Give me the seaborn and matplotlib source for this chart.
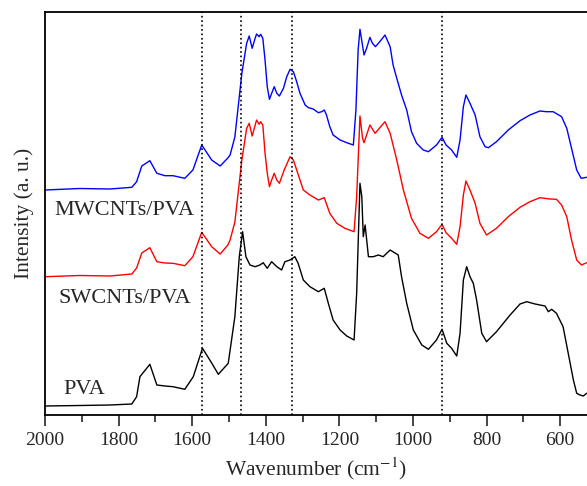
import numpy as np
import pandas as pd
import matplotlib
matplotlib.use('Agg')
import matplotlib.pyplot as plt
import seaborn as sns

# FTIR spectra (stacked, a.u.)
mw_wavenumber = [2000, 1905, 1823, 1764, 1751, 1737, 1715, 1696, 1674, 1652, 1620, 1598, 1574, 1547, 1524, 1503,
                 1497, 1484, 1465, 1452, 1445, 1437, 1429, 1425, 1418, 1414, 1408, 1402, 1396, 1390, 1384, 1377,
                 1370, 1363, 1352, 1343, 1334, 1325, 1316, 1307, 1293, 1284, 1271, 1257, 1248, 1241, 1235, 1226,
                 1217, 1198, 1180, 1162, 1155, 1149, 1144, 1138, 1133, 1126, 1117, 1110, 1102, 1094, 1085, 1076,
                 1070, 1062, 1054, 1044, 1031, 1017, 1004, 990, 972, 958, 936, 921, 910, 895, 881, 872, 863, 856,
                 845, 831, 818, 804, 795, 773, 741, 709, 682, 655, 637, 619, 596, 582, 569, 555, 543, 528]
mw_intensity = [2.25, 2.265, 2.26, 2.277, 2.333, 2.49, 2.543, 2.417, 2.393, 2.393, 2.367, 2.45, 2.70, 2.55, 2.49, 2.57,
                2.60, 2.78, 3.417, 3.717, 3.79, 3.667, 3.767, 3.81, 3.783, 3.807, 3.767, 3.55, 3.283, 3.157, 3.217, 3.283,
                3.217, 3.19, 3.267, 3.383, 3.457, 3.433, 3.333, 3.217, 3.10, 3.073, 3.06, 3.023, 3.033, 3.05, 3.00, 2.883,
                2.80, 2.75, 2.723, 2.70, 3.05, 3.65, 3.857, 3.717, 3.60, 3.667, 3.777, 3.717, 3.683, 3.717, 3.757, 3.80,
                3.75, 3.683, 3.50, 3.367, 3.20, 3.05, 2.833, 2.717, 2.65, 2.633, 2.70, 2.777, 2.70, 2.65, 2.577, 2.75,
                3.083, 3.20, 3.117, 3.00, 2.783, 2.683, 2.673, 2.733, 2.85, 2.943, 3.00, 3.04, 3.033, 3.033, 2.983,
                2.867, 2.667, 2.45, 2.367, 2.377]

sw_wavenumber = [2000, 1905, 1823, 1764, 1751, 1737, 1715, 1696, 1674, 1652, 1620, 1598, 1574, 1547, 1524, 1503,
                 1497, 1484, 1465, 1452, 1445, 1437, 1425, 1418, 1414, 1408, 1402, 1396, 1390, 1384, 1377, 1370,
                 1363, 1350, 1334, 1325, 1316, 1298, 1280, 1257, 1241, 1226, 1207, 1185, 1160, 1153, 1144, 1137,
                 1133, 1117, 1103, 1076, 1062, 1044, 1026, 1004, 981, 958, 936, 921, 910, 895, 881, 872, 863, 856,
                 845, 831, 818, 800, 773, 741, 709, 682, 655, 628, 610, 596, 582, 569, 555, 542, 528]
sw_intensity = [1.383, 1.395, 1.39, 1.41, 1.47, 1.62, 1.673, 1.533, 1.52, 1.517, 1.493, 1.583, 1.827, 1.683, 1.61, 1.70,
                1.75, 1.93, 2.55, 2.867, 2.917, 2.79, 2.95, 2.907, 2.933, 2.90, 2.617, 2.42, 2.283, 2.35, 2.417, 2.35,
                2.317, 2.45, 2.583, 2.55, 2.45, 2.25, 2.20, 2.15, 2.173, 2.017, 1.917, 1.867, 1.833, 2.183, 2.99, 2.767,
                2.723, 2.90, 2.817, 2.933, 2.817, 2.55, 2.25, 1.967, 1.817, 1.767, 1.833, 1.907, 1.823, 1.767, 1.707,
                1.883, 2.20, 2.34, 2.25, 2.117, 1.917, 1.80, 1.867, 1.983, 2.077, 2.133, 2.173, 2.16, 2.157, 2.10,
                1.983, 1.75, 1.55, 1.50, 1.523]

pva_wavenumber = [2000, 1905, 1823, 1764, 1751, 1742, 1715, 1696, 1674, 1652, 1620, 1597, 1572, 1547, 1529, 1502,
                  1484, 1472, 1463, 1454, 1443, 1429, 1416, 1407, 1396, 1384, 1370, 1357, 1348, 1334, 1321, 1312,
                  1298, 1280, 1257, 1241, 1230, 1217, 1198, 1180, 1160, 1153, 1144, 1139, 1135, 1130, 1121, 1108,
                  1094, 1081, 1062, 1040, 1031, 1017, 999, 976, 958, 936, 921, 908, 895, 881, 872, 863, 854, 845,
                  836, 827, 813, 800, 773, 736, 709, 691, 668, 641, 632, 623, 610, 592, 578, 564, 555, 546, 537, 528]
pva_intensity = [0.09, 0.095, 0.10, 0.11, 0.183, 0.383, 0.507, 0.30, 0.29, 0.283, 0.257, 0.383, 0.667, 0.52, 0.407, 0.517,
                 0.983, 1.583, 1.833, 1.583, 1.50, 1.483, 1.50, 1.523, 1.467, 1.533, 1.483, 1.45, 1.533, 1.55, 1.583, 1.517,
                 1.35, 1.283, 1.233, 1.267, 1.117, 0.95, 0.85, 0.79, 0.75, 1.217, 2.317, 2.183, 1.783, 1.90, 1.583, 1.583,
                 1.60, 1.583, 1.65, 1.60, 1.383, 1.117, 0.85, 0.70, 0.657, 0.75, 0.857, 0.717, 0.667, 0.59, 0.817, 1.35,
                 1.483, 1.383, 1.317, 1.15, 0.817, 0.733, 0.833, 1.00, 1.11, 1.133, 1.11, 1.09, 1.033, 1.057, 1.017,
                 0.883, 0.617, 0.35, 0.217, 0.20, 0.19, 0.217]

samples = ['MWCNTs/PVA', 'SWCNTs/PVA', 'PVA']
colors = {'MWCNTs/PVA': 'blue', 'SWCNTs/PVA': 'red', 'PVA': 'black'}
# label anchors (wavenumber, intensity)
label_pos = {'MWCNTs/PVA': (1784, 2.05), 'SWCNTs/PVA': (1784, 1.17), 'PVA': (1893, 0.26)}
marker_lines = [1574, 1467, 1329, 921]

df = pd.concat([
    pd.DataFrame({'wavenumber': mw_wavenumber, 'intensity': mw_intensity, 'sample': 'MWCNTs/PVA'}),
    pd.DataFrame({'wavenumber': sw_wavenumber, 'intensity': sw_intensity, 'sample': 'SWCNTs/PVA'}),
    pd.DataFrame({'wavenumber': pva_wavenumber, 'intensity': pva_intensity, 'sample': 'PVA'}),
], ignore_index=True)

sns.set_style('ticks')
plt.rcParams['font.family'] = ['Liberation Serif', 'DejaVu Serif']
plt.rcParams['mathtext.fontset'] = 'stix'

fig = plt.figure(figsize=(5.87, 4.86), dpi=100)
ax = fig.add_axes([45 / 587, 71 / 486, 542 / 587, 403 / 486])

sns.lineplot(data=df, x='wavenumber', y='intensity', hue='sample', palette=colors,
             estimator=None, sort=False, legend=False, linewidth=1.0, ax=ax)

for w in marker_lines:
    ax.axvline(w, color='black', linestyle=':', linewidth=1.2)

for name in samples:
    x, y = label_pos[name]
    ax.text(x, y, name, ha='center', va='center', fontsize=16)

ax.set_xlim(2000, 527)
ax.set_ylim(0, 4.03)
ax.set_xticks(np.arange(2000, 500, -200))
ax.set_xticks(np.arange(1900, 500, -200), minor=True)
ax.set_yticks([])
ax.tick_params(axis='x', which='major', direction='out', length=8, width=1.2, labelsize=14, pad=4)
ax.tick_params(axis='x', which='minor', direction='out', length=5, width=1.2)
ax.spines['right'].set_visible(False)
for s in ['left', 'bottom', 'top']:
    ax.spines[s].set_linewidth(1.3)
    ax.spines[s].set_color('black')

ax.set_xlabel('Wavenumber (cm$^{-1}$)', fontsize=15.5, labelpad=5)
ax.set_ylabel('Intensity (a. u.)', fontsize=15.5, labelpad=8)

fig.savefig('out.png', dpi=100)
